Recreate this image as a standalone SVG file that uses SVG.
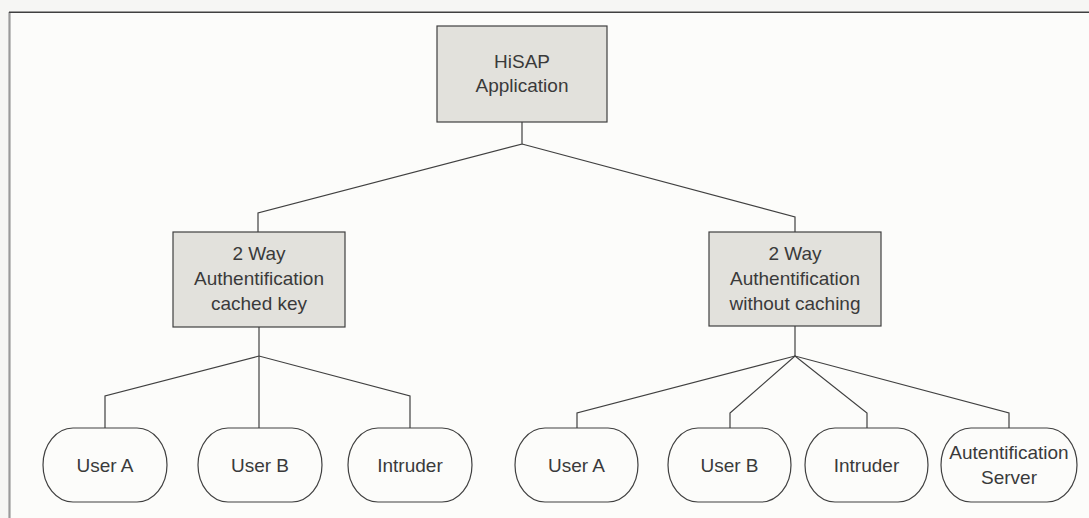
<svg xmlns="http://www.w3.org/2000/svg" width="1089" height="518" viewBox="0 0 1089 518">
<style>
.box{fill:#e2e1dc;stroke:#404040;stroke-width:1.2}
.leaf{fill:#fcfcfa;stroke:#404040;stroke-width:1.2}
.t{font-family:"Liberation Sans",Arial,sans-serif;font-size:19px;fill:#3a3a3a;text-anchor:middle}
.c{fill:none;stroke:#404040;stroke-width:1.2}
</style>
<rect x="0" y="0" width="1089" height="518" fill="#f6f6f4"/>
<rect x="9.5" y="12" width="1080" height="506" fill="#fcfcfa"/>
<line x1="9.5" y1="12" x2="9.5" y2="518" stroke="#9a9a9a" stroke-width="2.2"/>
<line x1="9" y1="12.3" x2="1089" y2="12.3" stroke="#404040" stroke-width="1.6"/>

<g id="connectors">
<polyline class="c" points="522,122 522,144 258,213 258,232"/>
<polyline class="c" points="522,144 795,217 795,232"/>
<line class="c" x1="259" y1="327" x2="259" y2="428"/>
<polyline class="c" points="105,428 105,396 259,356 410,396 410,428"/>
<line class="c" x1="795" y1="326" x2="795" y2="356"/>
<polyline class="c" points="577,428 577,413 795,356 1009,413 1009,428"/>
<polyline class="c" points="730,428 730,413 795,356 867,413 867,428"/>
</g>

<g id="hisap">
<rect class="box" x="437" y="26" width="170" height="96"/>
<text class="t" x="522" y="68">HiSAP</text>
<text class="t" x="522" y="92">Application</text>
</g>

<g id="auth-cached">
<rect class="box" x="173" y="232" width="172" height="95"/>
<text class="t" x="259" y="260">2 Way</text>
<text class="t" x="259" y="285">Authentification</text>
<text class="t" x="259" y="310">cached key</text>
</g>

<g id="auth-nocache">
<rect class="box" x="709" y="232" width="172" height="94"/>
<text class="t" x="795" y="260">2 Way</text>
<text class="t" x="795" y="285">Authentification</text>
<text class="t" x="795" y="310">without caching</text>
</g>

<g id="l-usera">
<rect class="leaf" x="43" y="428" width="124" height="74" rx="30" ry="37"/>
<text class="t" x="105" y="472">User A</text>
</g>
<g id="l-userb">
<rect class="leaf" x="198" y="428" width="124" height="74" rx="30" ry="37"/>
<text class="t" x="260" y="472">User B</text>
</g>
<g id="l-intruder">
<rect class="leaf" x="348" y="428" width="124" height="74" rx="30" ry="37"/>
<text class="t" x="410" y="472">Intruder</text>
</g>

<g id="r-usera">
<rect class="leaf" x="515" y="428" width="123" height="74" rx="30" ry="37"/>
<text class="t" x="576.5" y="472">User A</text>
</g>
<g id="r-userb">
<rect class="leaf" x="668" y="428" width="123" height="74" rx="30" ry="37"/>
<text class="t" x="729.5" y="472">User B</text>
</g>
<g id="r-intruder">
<rect class="leaf" x="805" y="428" width="123" height="74" rx="30" ry="37"/>
<text class="t" x="866.5" y="472">Intruder</text>
</g>
<g id="r-server">
<rect class="leaf" x="941" y="428" width="136" height="74" rx="30" ry="37"/>
<text class="t" x="1009" y="459">Autentification</text>
<text class="t" x="1009" y="484">Server</text>
</g>
</svg>
